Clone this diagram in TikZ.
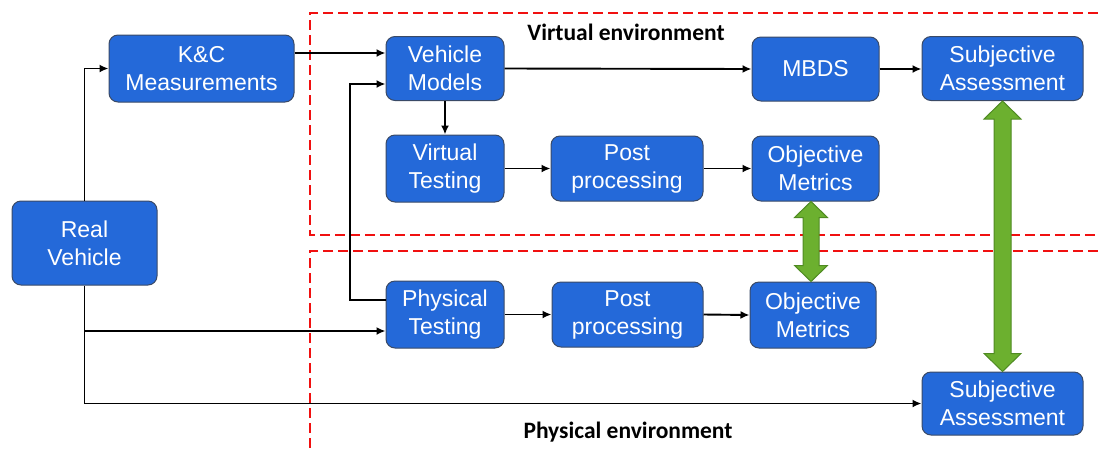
\documentclass[tikz,border=0pt]{standalone}
\usepackage{fontspec}
\setmainfont{Liberation Sans}
\newfontfamily\envfont{Carlito}
\usetikzlibrary{arrows.meta,calc}
\definecolor{boxblue}{HTML}{2469D9}
\definecolor{boxedge}{HTML}{3A4A66}
\definecolor{agreen}{HTML}{6CB02F}
\definecolor{agreenedge}{HTML}{4F8A22}
\definecolor{envred}{HTML}{F01010}
\begin{document}
\begin{tikzpicture}[x=1pt,y=-1pt,
  blk/.style={draw=boxedge,line width=1pt,fill=boxblue,rounded corners=9pt,
    text=white,align=center,inner sep=0pt,
    font=\fontsize{23}{28}\selectfont},
  arr/.style={line width=1.9pt,-{Latex[length=9pt,width=8pt]}},
  env/.style={envred,line width=2pt,dash pattern=on 10pt off 5pt},
  envlab/.style={font=\envfont\bfseries\fontsize{23.5}{26}\selectfont},
  garrow/.style={fill=agreen,draw=agreenedge,line width=1pt,line join=miter}]
\useasboundingbox (0,0) rectangle (1098,448);
% environments
\draw[env] (1098,13) -- (310,13) -- (310,235) -- (1098,235);
\draw[env] (1098,251) -- (310,251) -- (310,448);
\node[envlab] (vlab) at (626,32) {Virtual environment};
\node[envlab] (plab) at (628,432) {Physical environment};
% boxes
\node[blk,minimum width=185pt,minimum height=67pt] (kc) at (201.5,68.5) {K\&C\\Measurements};
\node[blk,minimum width=145pt,minimum height=84pt] (rv) at (84.5,243) {Real\\Vehicle};
\node[blk,minimum width=118pt,minimum height=64pt] (vm) at (445,68.5) {Vehicle\\Models};
\node[blk,minimum width=118pt,minimum height=67pt] (vt) at (445,168.5) {Virtual\\Testing};
\node[blk,minimum width=152pt,minimum height=65pt] (ppv) at (627,168.5) {Post\\processing};
\node[blk,minimum width=127pt,minimum height=65pt] (omv) at (815.5,168.5) {Objective\\Metrics};
\node[blk,minimum width=127pt,minimum height=64pt] (mbds) at (815.5,69) {MBDS};
\node[blk,minimum width=161pt,minimum height=64pt] (sat) at (1002.5,68.5) {Subjective\\Assessment};
\node[blk,minimum width=118pt,minimum height=67pt] (pt) at (445,314.5) {Physical\\Testing};
\node[blk,minimum width=151pt,minimum height=65pt] (ppp) at (627.5,314.5) {Post\\processing};
\node[blk,minimum width=126pt,minimum height=66pt] (omp) at (813,315) {Objective\\Metrics};
\node[blk,minimum width=161pt,minimum height=63pt] (sab) at (1002.5,403.5) {Subjective\\Assessment};
% connectors
\coordinate (kcout) at ([yshift=15.5pt]kc.east);
\coordinate (vmin1) at ([yshift=15.5pt]vm.west);
\coordinate (vmin2) at ([yshift=-15.5pt]vm.west);
\coordinate (ptout) at ([yshift=14.5pt]pt.west);
\coordinate (ptin) at ([yshift=-16.5pt]pt.west);
\coordinate (loopx) at (350,0);
\draw[arr] (rv.north) |- (kc.west);
\draw[arr] (kcout) -- (vmin1);
\draw[arr] (ptout) -| (loopx |- vmin2) -- (vmin2);
\draw[arr] (vm.south) -- (vt.north);
\draw[arr] (vm.east) -- (mbds.west);
\draw[arr] (mbds.east) -- (sat.west |- mbds.east);
\draw[arr] (vt.east) -- (ppv.west);
\draw[arr] (ppv.east) -- (omv.west);
\draw[arr] (pt.east) -- (ppp.west);
\draw[arr] (ppp.east) -- (omp.west);
\draw[arr] (rv.south) |- (sab.west);
\draw[arr] (rv.south |- ptin) -- (ptin);
% green double arrows
\coordinate (gx) at (811,0);
\coordinate (ga) at (omv.south -| gx);
\coordinate (gb) at (omp.north -| gx);
\coordinate (gc) at (sat.south);
\coordinate (gd) at (sab.north);
\draw[garrow] (ga) -- ($(ga)+(16.5,16)$) -- ($(ga)+(8,16)$)
  -- ($(gb)+(8,-16)$) -- ($(gb)+(16.5,-16)$) -- (gb)
  -- ($(gb)+(-16.5,-16)$) -- ($(gb)+(-8,-16)$)
  -- ($(ga)+(-8,16)$) -- ($(ga)+(-16.5,16)$) -- cycle;
\draw[garrow] (gc) -- ($(gc)+(18.5,18)$) -- ($(gc)+(8.5,18)$)
  -- ($(gd)+(8.5,-18)$) -- ($(gd)+(18.5,-18)$) -- (gd)
  -- ($(gd)+(-18.5,-18)$) -- ($(gd)+(-8.5,-18)$)
  -- ($(gc)+(-8.5,18)$) -- ($(gc)+(-18.5,18)$) -- cycle;
\end{tikzpicture}
\end{document}
